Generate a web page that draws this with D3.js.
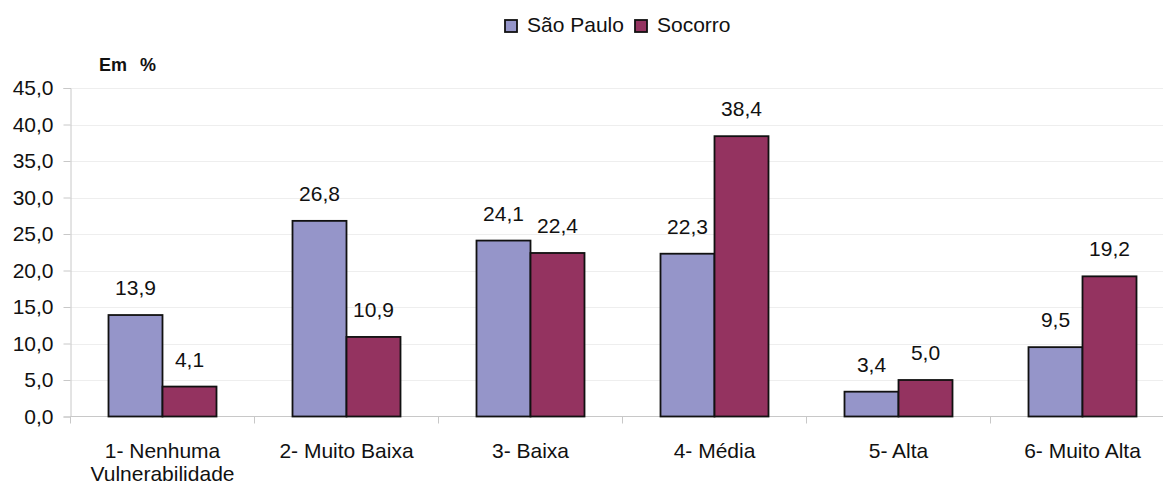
<!DOCTYPE html>
<html><head><meta charset="utf-8">
<script src="https://cdn.jsdelivr.net/npm/d3@7"></script>
<style>body{margin:0;background:#fff}svg{display:block}text{font-family:"Liberation Sans",Arial,sans-serif;fill:#111}</style>
</head><body><svg id="c" width="1163" height="487"></svg>
<script>
const categories = [["1- Nenhuma","Vulnerabilidade"],["2- Muito Baixa"],["3- Baixa"],["4- Média"],["5- Alta"],["6- Muito Alta"]];
const seriesNames = ["São Paulo","Socorro"];
const saoPaulo = [13.9,26.8,24.1,22.3,3.4,9.5];
const socorro = [4.1,10.9,22.4,38.4,5.0,19.2];
const yTicks = [0,5,10,15,20,25,30,35,40,45];
const colors = ["#9595c9","#943360"];

(function(){
const svg = d3.select("#c");
const mLeft = 70.5, band = 184, mTop = 88, mBottom = 416.5;
const FS = 21;
const x = d3.scaleBand().domain(d3.range(6)).range([mLeft, mLeft + 6*band]);
const y = d3.scaleLinear().domain([0,45]).range([mBottom, mTop]);
const fmt = v => v.toFixed(1).replace(".", ",");

// gridlines
svg.append("g").selectAll("line").data(yTicks.slice(1)).join("line")
  .attr("x1", mLeft).attr("x2", 1163).attr("y1", d=>Math.round(y(d))+0.5).attr("y2", d=>Math.round(y(d))+0.5)
  .attr("stroke", "#eeeeee").attr("stroke-width", 1);

// y axis
const ya = svg.append("g").attr("transform", `translate(${mLeft},0)`)
  .call(d3.axisLeft(y).tickValues(yTicks).tickFormat(fmt).tickSize(7).tickPadding(10));
ya.select(".domain").attr("stroke", "#c8c8c8");
ya.selectAll(".tick line").attr("stroke", "#c8c8c8");
ya.selectAll("text").attr("font-size", FS).attr("fill", "#111").attr("font-family", '"Liberation Sans",Arial,sans-serif');

// x axis
const xa = svg.append("g").attr("transform", `translate(0,${mBottom})`);
xa.append("line").attr("x1", mLeft).attr("x2", 1163).attr("stroke", "#c8c8c8");
xa.selectAll("line.t").data(d3.range(7)).join("line").attr("class","t")
  .attr("x1", d=>mLeft + d*band).attr("x2", d=>mLeft + d*band).attr("y1",0).attr("y2",7)
  .attr("stroke", "#c8c8c8");
const xl = xa.selectAll("text").data(categories).join("text")
  .attr("text-anchor","middle").attr("font-size",FS)
  .attr("x", (d,i)=>x(i)+band/2).attr("y", 41);
xl.selectAll("tspan").data(d=>d).join("tspan")
  .attr("x", function(){return d3.select(this.parentNode).attr("x");})
  .attr("dy", (d,i)=> i===0 ? 0 : 23).text(d=>d);

// bars
const barW = 54, gap = (band - 2*barW)/2;
[saoPaulo, socorro].forEach((vals, s) => {
  const g = svg.append("g");
  g.selectAll("rect").data(vals).join("rect")
    .attr("x", (d,i)=> x(i) + gap + s*barW)
    .attr("y", d=>y(d)).attr("width", barW).attr("height", d=>mBottom - y(d))
    .attr("fill", colors[s]).attr("stroke", "#111").attr("stroke-width", 1.8);
  g.selectAll("text").data(vals).join("text")
    .attr("x", (d,i)=> x(i) + gap + s*barW + barW/2)
    .attr("y", d=>y(d) - 20).attr("text-anchor","middle").attr("font-size",FS)
    .text(fmt);
});

// unit label
svg.append("text").attr("x", 99).attr("y", 71).attr("font-size", 18).attr("font-weight","bold")
  .attr("word-spacing", 8).text("Em %");

// legend
const lg = svg.append("g");
const items = [{n: seriesNames[0], x: 505}, {n: seriesNames[1], x: 635}];
items.forEach((it, i) => {
  lg.append("rect").attr("x", it.x).attr("y", 20).attr("width", 12).attr("height", 12)
    .attr("fill", colors[i]).attr("stroke", "#111").attr("stroke-width", 1.8);
  lg.append("text").attr("x", it.x + 22).attr("y", 32).attr("font-size", FS).text(it.n);
});
})();
</script></body></html>
